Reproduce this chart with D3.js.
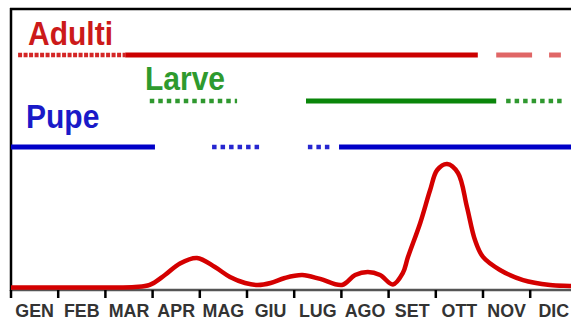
<!DOCTYPE html>
<html><head><meta charset="utf-8">
<script src="https://cdn.jsdelivr.net/npm/d3@7"></script>
<style>html,body{margin:0;padding:0;background:#fff;}svg{display:block;}</style>
</head><body>
<svg id="chart" width="571" height="320"></svg>
<script>
// --- data ---
const months = ["GEN","FEB","MAR","APR","MAG","GIU","LUG","AGO","SET","OTT","NOV","DIC"];
// activity curve (position in months from 1 Jan, relative abundance)
const curveMonths = [0,1,2,2.63,2.94,3.26,3.58,3.94,4.32,4.64,4.96,5.23,5.5,5.8,6.17,6.55,7.01,7.29,7.56,7.82,8.09,8.3,8.41,8.67,8.88,9.03,9.24,9.47,9.66,9.83,10.0,10.36,10.85,11.42,11.84,12];
const curveValues = [1.8,1.8,1.8,2.1,3.6,10.7,19,22.9,16.4,9.3,5,3.6,5,8.6,10.7,7.9,3.6,10.7,12.9,10.7,3.9,12,23.5,47.9,71.4,85.7,90,83.6,59.3,35.7,23.6,14.3,7.1,3.6,2.9,2.5];
// life stages: presence periods [start month, end month, presence type]
const stages = ["Adulti","Larve","Pupe"];
const adultiPeriods = [[0.15,2.42,"possibile"],[2.42,9.89,"certa"],[10.28,11.04,"rara"],[11.4,11.65,"rara"]];
const larvePeriods = [[2.94,4.79,"possibile"],[6.25,10.28,"certa"],[10.49,11.74,"possibile"]];
const pupePeriods = [[0,3.05,"certa"],[4.26,5.32,"possibile"],[6.29,6.76,"possibile"],[6.95,12,"certa"]];

// --- drawing ---
const svg = d3.select("#chart");
const x = d3.scaleLinear().domain([0,12]).range([11,577.4]);
const y = d3.scaleLinear().domain([0,100]).range([290,150]);

const stageConf = {
  Adulti:{periods:adultiPeriods,color:"#cc0000",text:"#cc1a1a",row:55,tx:28,ty:45},
  Larve:{periods:larvePeriods,color:"#0a860a",text:"#2e9a2e",row:101,tx:145,ty:90},
  Pupe:{periods:pupePeriods,color:"#0000c8",text:"#1a1ac8",row:147,tx:26,ty:128}
};

// frame
svg.append("line").attr("x1",10).attr("x2",571).attr("y1",9).attr("y2",9)
  .attr("stroke","#000").attr("stroke-width",2.5);
svg.append("line").attr("x1",11).attr("x2",11).attr("y1",8).attr("y2",291)
  .attr("stroke","#000").attr("stroke-width",2.5);

stages.forEach(s=>{
  const c = stageConf[s];
  svg.append("text").attr("x",c.tx).attr("y",c.ty).text(s)
    .attr("font-family","Liberation Sans, Arial, sans-serif").attr("font-weight","bold")
    .attr("font-size",30).attr("fill",c.text)
    .attr("transform",`translate(0,${c.ty}) scale(1,1.08) translate(0,${-c.ty})`);
  svg.append("g").selectAll("line").data(c.periods).join("line")
    .attr("x1",d=>x(d[0])).attr("x2",d=>x(d[1]))
    .attr("y1",c.row).attr("y2",c.row)
    .attr("stroke",c.color)
    .attr("stroke-opacity",d=>d[2]==="rara"?0.6:(d[2]==="possibile"?0.85:1))
    .attr("stroke-width",d=>d[2]==="possibile"?4.5:5)
    .attr("stroke-dasharray",d=>d[2]==="possibile"?(s==="Adulti"?"4,1.5":"4.5,4"):null);
});

// axis
const axisG = svg.append("g").attr("transform","translate(0,290)");
axisG.append("line").attr("x1",11).attr("x2",571).attr("stroke","#555").attr("stroke-width",2.5);
axisG.selectAll("line.tick").data(d3.range(0,13)).join("line").attr("class","tick")
  .attr("x1",d=>x(d)).attr("x2",d=>x(d)).attr("y1",0).attr("y2",8)
  .attr("stroke","#000").attr("stroke-width",2.5);
axisG.selectAll("text").data(months).join("text")
  .attr("x",(d,i)=>x(i+0.5)).attr("y",27).attr("text-anchor","middle")
  .attr("font-family","Liberation Sans, Arial, sans-serif").attr("font-weight","bold")
  .attr("font-size",17).attr("fill","#333").text(d=>d)
  .attr("transform",(d,i)=>`translate(${x(i+0.5)},27) scale(1.05,1.1) translate(${-x(i+0.5)},-27)`);

// curve
const pts = curveMonths.map((m,i)=>[m,curveValues[i]]);
svg.append("path").datum(pts)
  .attr("d",d3.line().x(d=>x(d[0])).y(d=>y(d[1])).curve(d3.curveCatmullRom.alpha(0.5)))
  .attr("fill","none").attr("stroke","#d40000").attr("stroke-width",4.5)
  .attr("stroke-linejoin","round");
</script>
</body></html>
